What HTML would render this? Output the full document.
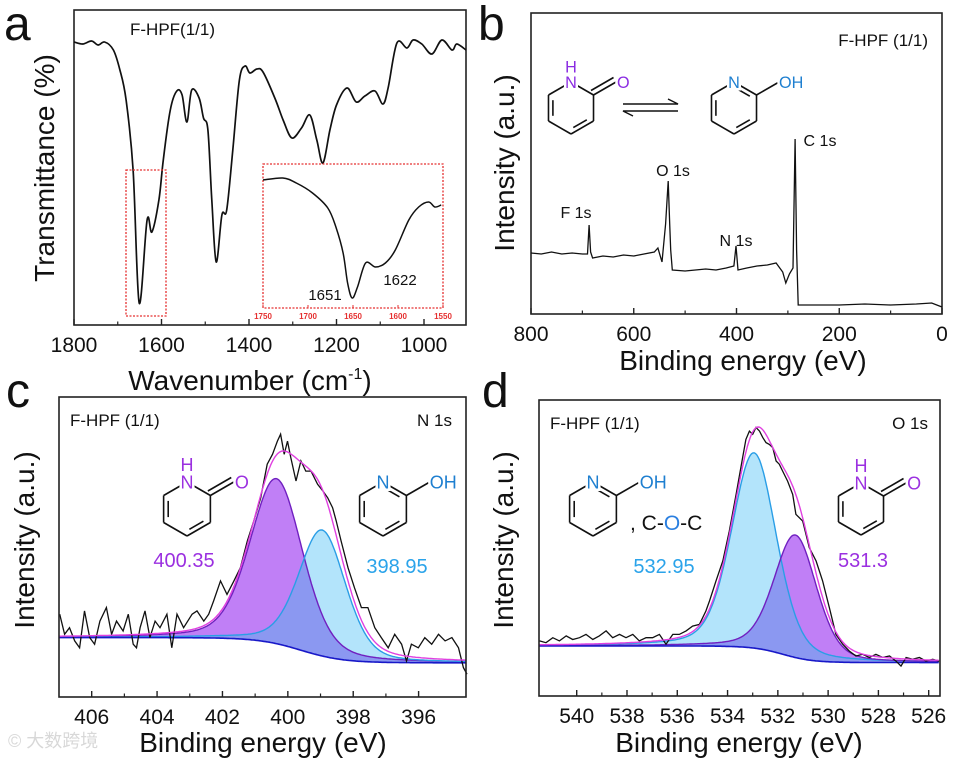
<!DOCTYPE html>
<html><head><meta charset="utf-8">
<style>
html,body{margin:0;padding:0;background:#fff;}
svg{display:block;font-family:"Liberation Sans","Noto Sans CJK SC",sans-serif;}
</style></head>
<body>
<svg id="fig" width="953" height="762" viewBox="0 0 953 762" xmlns="http://www.w3.org/2000/svg"></svg>
<script>
// ---------- Panel a: FTIR ----------
const irWn=[1800,1780,1760,1745,1730,1710,1695,1681,1665,1651,1633,1622,1606,1596,1580,1565,1553,1542,1531,1514,1504,1494,1485,1475,1462,1451,1437,1422,1409,1398,1382,1368,1341,1322,1302,1280,1261,1245,1231,1215,1200,1176,1155,1135,1112,1094,1082,1062,1039,1025,1005,982,959,936,925,904];
const irT=[283,281,284,280,283,275,255,225,155,22,105,93,125,165,215,234,230,203,235,227,207,195,125,63,110,115,175,245,259,252,256,253,227,205,187,197,210,185,162,195,220,237,223,229,234,221,237,282,277,285,281,271,285,275,281,275];
const insetWn=[1750,1728,1713,1695,1678,1669,1661,1656,1651,1645,1636,1625,1614,1603,1588,1577,1566,1559,1552];
const insetT=[128,130,125,115,100,81,55,25,10,21,45,41,45,58,88,101,106,101,103];
const irTicks=[1800,1600,1400,1200,1000];
const insetTicks=[1750,1700,1650,1600,1550];
// ---------- Panel b: survey ----------
const survE=[800,780,760,740,720,700,690,687,684,680,660,640,620,600,580,560,553,545,538,533,530,528,525,500,480,460,440,420,405,401,397,380,360,340,323,310,304,297,290,286,283,280,250,200,150,100,50,20,5,0];
const survI=[61,60,62,60,61,60,60,89,62,56,58,57,59,58,60,62,66,52,90,133,90,64,44,43,44,45,44,46,48,68,44,46,48,49,51,42,31,40,46,175,64,9,9,9,10,9,10,11,8,7];
const survTicks=[800,600,400,200,0];
// ---------- Panel c: N 1s ----------
const nE=[406.98,406.83,406.68,406.52,406.37,406.22,406.06,405.91,405.75,405.55,405.39,405.24,405.04,404.88,404.73,404.63,404.52,404.37,404.22,404.06,403.91,403.70,403.55,403.39,403.19,402.93,402.78,402.57,402.42,402.27,402.06,401.86,401.65,401.45,401.24,401.04,400.83,400.63,400.47,400.32,400.22,400.11,400.01,399.91,399.75,399.60,399.45,399.29,399.09,398.93,398.78,398.63,398.52,398.37,398.16,397.96,397.75,397.55,397.34,397.14,396.93,396.73,396.52,396.37,396.22,396.01,395.81,395.60,395.39,395.19,394.98,394.78,394.63,394.52];
const nI=[.276,.209,.231,.187,.164,.287,.198,.176,.253,.298,.209,.253,.22,.276,.176,.164,.231,.287,.198,.253,.231,.276,.164,.276,.231,.276,.287,.253,.276,.32,.387,.342,.387,.431,.52,.587,.664,.776,.809,.853,.876,.809,.853,.798,.72,.787,.753,.753,.709,.687,.664,.631,.587,.52,.431,.364,.298,.298,.231,.198,.164,.209,.176,.12,.176,.164,.198,.176,.209,.187,.198,.164,.098,.076];
const nCenters=[400.35,398.95];
const nHeights=[0.55,0.42];
const nWidths=[1.9,1.7];
const nBg=[0.198,0.114,399.6,0.65]; // left level, right level, step centre, step width
const nTicks=[406,404,402,400,398,396];
// ---------- Panel d: O 1s ----------
const oE=[541.48,541.22,540.95,540.69,540.42,540.16,539.89,539.63,539.36,539.10,538.83,538.57,538.30,538.04,537.77,537.51,537.24,536.98,536.71,536.45,536.18,535.92,535.65,535.39,535.12,534.86,534.72,534.46,534.19,533.93,533.66,533.40,533.27,533.13,533.00,532.87,532.73,532.60,532.47,532.34,532.20,532.07,531.94,531.81,531.61,531.41,531.28,531.01,530.88,530.75,530.48,530.22,529.95,529.69,529.42,529.16,528.89,528.63,528.36,528.10,527.83,527.56,527.30,527.10,526.90,526.64,526.37,526.11,525.84,525.58];
const oI=[.186,.18,.197,.186,.203,.191,.197,.208,.191,.203,.22,.197,.208,.197,.208,.186,.197,.197,.208,.175,.208,.208,.22,.236,.242,.287,.321,.389,.456,.557,.681,.805,.867,.895,.884,.907,.895,.873,.856,.85,.839,.794,.783,.76,.726,.681,.614,.591,.546,.501,.456,.389,.298,.208,.175,.152,.135,.141,.13,.141,.13,.135,.118,.101,.13,.124,.13,.118,.124,.118];
const oCenters=[532.95,531.3];
const oHeights=[0.66,0.414];
const oWidths=[2.1,2.0];
const oBg=[0.169,0.113,531.8,0.6];
const oTicks=[540,538,536,534,532,530,528,526];

const NS='http://www.w3.org/2000/svg';
const svg=document.getElementById('fig');
function mk(tag,attrs,parent){const e=document.createElementNS(NS,tag);for(const k in attrs)e.setAttribute(k,attrs[k]);(parent||svg).appendChild(e);return e;}
function txt(s,x,y,size,attrs,parent){const a=Object.assign({x:x,y:y,'font-size':size,fill:'#111'},attrs||{});const t=mk('text',a,parent);t.textContent=s;return t;}
function lin(d0,d1,r0,r1){return v=>r0+(v-d0)/(d1-d0)*(r1-r0);}
function pathOf(xs,ys,X,Y){let d='';for(let i=0;i<xs.length;i++)d+=(i?'L':'M')+X(xs[i]).toFixed(1)+','+Y(ys[i]).toFixed(1);return d;}
function smoothOf(xs,ys,X,Y){const P=xs.map((x,i)=>[X(x),Y(ys[i])]);let d='M'+P[0][0].toFixed(1)+','+P[0][1].toFixed(1);
  for(let i=0;i<P.length-1;i++){const p0=P[Math.max(0,i-1)],p1=P[i],p2=P[i+1],p3=P[Math.min(P.length-1,i+2)];
    const c1=[p1[0]+(p2[0]-p0[0])/6,p1[1]+(p2[1]-p0[1])/6],c2=[p2[0]-(p3[0]-p1[0])/6,p2[1]-(p3[1]-p1[1])/6];
    d+='C'+c1[0].toFixed(1)+','+c1[1].toFixed(1)+' '+c2[0].toFixed(1)+','+c2[1].toFixed(1)+' '+p2[0].toFixed(1)+','+p2[1].toFixed(1);}
  return d;}
function pv(E,c,h,w){const u=(E-c)/w;return h*(0.7*Math.exp(-4*Math.LN2*u*u)+0.3/(1+4*u*u));}
function bgv(E,b){return b[1]+(b[0]-b[1])/(1+Math.exp(-(E-b[2])/b[3]));}

function frame(x0,y0,x1,y1,name){const r=mk('rect',{x:x0,y:y0,width:x1-x0,height:y1-y0,fill:'none',stroke:'#222','stroke-width':1.6});}
function xticks(ticks,X,yb,name){
  const g=mk('g',{});
  ticks.forEach((t,i)=>{mk('line',{x1:X(t),x2:X(t),y1:yb,y2:yb-6,stroke:'#222','stroke-width':1.4},g);
    const l=txt(String(t),X(t),yb+27,21,{'text-anchor':'middle'},g);
    
    if(i<ticks.length-1){const m=t+(ticks[i+1]-t)/2;mk('line',{x1:X(m),x2:X(m),y1:yb,y2:yb-3.5,stroke:'#222','stroke-width':1.2},g);}
  });
}
function ring(cx,cy,r,kind,col,scale,name){
  const g=mk('g',{});
  const ang=[-90,-30,30,90,150,210].map(a=>a*Math.PI/180);
  const P=ang.map(a=>[cx+r*Math.cos(a),cy+r*Math.sin(a)]);
  const sw=1.6;
  const dbl=kind==='one'?[[2,3],[4,5]]:[[0,1],[2,3],[4,5]];
  for(let i=0;i<6;i++){const a=P[i],b=P[(i+1)%6];
    mk('line',{x1:a[0],y1:a[1],x2:b[0],y2:b[1],stroke:'#111','stroke-width':sw},g);
    if(dbl.some(d=>d[0]===i)){const k=0.2;const ix=(cx-(a[0]+b[0])/2),iy=(cy-(a[1]+b[1])/2);const L=Math.hypot(ix,iy);const ox=ix/L*r*0.17,oy=iy/L*r*0.17;
      const a2=[a[0]+(b[0]-a[0])*k+ox,a[1]+(b[1]-a[1])*k+oy],b2=[b[0]+(a[0]-b[0])*k+ox,b[1]+(a[1]-b[1])*k+oy];
      mk('line',{x1:a2[0],y1:a2[1],x2:b2[0],y2:b2[1],stroke:'#111','stroke-width':sw},g);}
  }
  const ex=P[1][0]+r*Math.cos(-Math.PI/6),ey=P[1][1]+r*Math.sin(-Math.PI/6);
  mk('line',{x1:P[1][0],y1:P[1][1],x2:ex,y2:ey,stroke:'#111','stroke-width':sw},g);
  if(kind==='one'){mk('line',{x1:P[1][0]-2.5,y1:P[1][1]-4.5,x2:ex-2.5,y2:ey-4.5,stroke:'#111','stroke-width':sw},g);}
  const fs=18*scale;
  const st={'text-anchor':'middle',fill:col,stroke:'#fff','stroke-width':5,'paint-order':'stroke'};
  const n=txt('N',P[0][0],P[0][1]+fs*0.36,fs,st,g);
  if(kind==='one'){const h=txt('H',P[0][0],P[0][1]-fs*0.6,fs,{'text-anchor':'middle',fill:col},g);
    const o=txt('O',ex+fs*0.45,ey+fs*0.36,fs,st,g);}
  else{const o=txt('OH',ex+fs*0.75,ey+fs*0.36,fs,st,g);}
}

// ===== Panel a =====
(function(){
  const X=lin(1800,904,74,466),Y=lin(0,315,325,10);
  frame(74,10,466,325,'panel-a-frame');
  const p=mk('path',{d:smoothOf(irWn,irT,X,Y),fill:'none',stroke:'#111','stroke-width':1.7,'stroke-linejoin':'round'});
  
  xticks(irTicks,X,325,'panel-a-x-axis');
  const z=mk('rect',{x:126,y:170,width:40,height:146,fill:'none',stroke:'#e53030','stroke-width':1.3,'stroke-dasharray':'2,1.5'});
  
  const IX=lin(1750,1550,263,443),IY=lin(0,144,308,164);
  const ib=mk('rect',{x:263,y:164,width:180,height:144,fill:'#fff',stroke:'#e53030','stroke-width':1.3,'stroke-dasharray':'2,1.5'});
  
  const ip=mk('path',{d:smoothOf(insetWn,insetT,IX,IY),fill:'none',stroke:'#111','stroke-width':1.5});
  
  insetTicks.forEach(t=>{mk('line',{x1:IX(t),x2:IX(t),y1:308,y2:305,stroke:'#e53030','stroke-width':1});
    const l=txt(String(t),IX(t),319,8,{'text-anchor':'middle',fill:'#e53030','font-weight':'bold'});
    });
  let t=txt('1651',325,300,15,{'text-anchor':'middle'});
  t=txt('1622',400,285,15,{'text-anchor':'middle'});
  t=txt('F-HPF(1/1)',130,35,17,{});
  t=txt('a',4,40,48,{});
  t=txt('Transmittance  (%)',0,0,28,{'text-anchor':'middle',transform:'translate(54,168) rotate(-90)'});
  t=txt('Wavenumber (cm',250,390,28,{'text-anchor':'middle'});
  const sp=mk('tspan',{'font-size':16,dy:-11},t);sp.textContent='-1';
  const sp2=mk('tspan',{dy:11},t);sp2.textContent=')';
})();

// ===== Panel b =====
(function(){
  const X=lin(800,0,531,942),Y=lin(0,301,314,13);
  frame(531,13,942,314,'panel-b-frame');
  const p=mk('path',{d:pathOf(survE,survI,X,Y),fill:'none',stroke:'#111','stroke-width':1.3});
  
  xticks(survTicks,X,314,'panel-b-x-axis');
  let t;
  t=txt('F 1s',576,218,16,{'text-anchor':'middle'});
  t=txt('O 1s',673,176,16,{'text-anchor':'middle'});
  t=txt('N 1s',736,246,16,{'text-anchor':'middle'});
  t=txt('C 1s',820,146,16,{'text-anchor':'middle'});
  t=txt('F-HPF (1/1)',928,46,17,{'text-anchor':'end'});
  t=txt('b',478,40,48,{});
  t=txt('Intensity (a.u.)',0,0,28,{'text-anchor':'middle',transform:'translate(514,163) rotate(-90)'});
  t=txt('Binding energy (eV)',743,370,28,{'text-anchor':'middle'});
  ring(571,108,26,'one','#8a2be2',0.9,'pyridone-structure');
  ring(734,108,26,'ol','#1e7fd0',0.9,'hydroxypyridine-structure');
  const g=mk('g',{});
  mk('path',{d:'M623,104 L678,104 L668,99',fill:'none',stroke:'#111','stroke-width':1.4},g);
  mk('path',{d:'M678,111 L623,111 L633,116',fill:'none',stroke:'#111','stroke-width':1.4},g);
})();

// ===== fitted XPS panel helper =====
function xpsPanel(box,dom,E,I,cen,hei,wid,bg,ticks,colorOrder,prefix){
  const X=lin(dom[0],dom[1],box[0],box[2]),Y=lin(0,1,box[3],box[1]);
  const grid=[];for(let e=dom[0];e>=dom[1];e-=(dom[0]-dom[1])/300)grid.push(e);
  const B=grid.map(e=>bgv(e,bg));
  const c1=grid.map((e,i)=>B[i]+pv(e,cen[0],hei[0],wid[0]));
  const c2=grid.map((e,i)=>B[i]+pv(e,cen[1],hei[1],wid[1]));
  const mn=grid.map((e,i)=>Math.min(c1[i],c2[i]));
  const env=grid.map((e,i)=>c1[i]+c2[i]-B[i]);
  const area=(top)=>pathOf(grid,top,X,Y)+'L'+[...grid].reverse().map((e,i)=>X(e).toFixed(1)+','+Y(B[B.length-1-i]).toFixed(1)).join('L')+'Z';
  const cols={p:'#c07ff6',c:'#b3e4fb'};
  const line={p:'#7020c0',c:'#2a9ee6'};
  const k1=colorOrder[0],k2=colorOrder[1];
  let e;
  e=mk('path',{d:area(c1),fill:cols[k1],stroke:'none'});
  e=mk('path',{d:area(c2),fill:cols[k2],stroke:'none'});
  e=mk('path',{d:area(mn),fill:'#8b98f1',stroke:'none'});
  e=mk('path',{d:pathOf(grid,c1,X,Y),fill:'none',stroke:line[k1],'stroke-width':1.4});
  e=mk('path',{d:pathOf(grid,c2,X,Y),fill:'none',stroke:line[k2],'stroke-width':1.4});
  e=mk('path',{d:pathOf(grid,B,X,Y),fill:'none',stroke:'#1818c8','stroke-width':1.6});
  e=mk('path',{d:pathOf(E,I,X,Y),fill:'none',stroke:'#111','stroke-width':1.3});
  e=mk('path',{d:pathOf(grid,env,X,Y),fill:'none',stroke:'#e040e0','stroke-width':1.4});
  frame(box[0],box[1],box[2],box[3],prefix+'-frame');
  xticks(ticks,X,box[3],prefix+'-x-axis');
}

// ===== Panel c =====
(function(){
  const wm=txt('\u00a9 大数跨境',8,747,18,{fill:'#d8d8d8'});
  xpsPanel([59,397,466,697],[407,394.55],nE,nI,nCenters,nHeights,nWidths,nBg,nTicks,['p','c'],'n1s');
  let t;
  t=txt('F-HPF (1/1)',70,426,17,{});
  t=txt('N 1s',452,426,17,{'text-anchor':'end'});
  t=txt('400.35',184,567,20,{'text-anchor':'middle',fill:'#9b30e0'});
  t=txt('398.95',397,573,20,{'text-anchor':'middle',fill:'#2aa3ea'});
  ring(187,509,27,'one','#9b30e0',1,'pyridone-structure');
  ring(383,509,27,'ol','#1e7fd0',1,'hydroxypyridine-structure');
  t=txt('c',6,407,48,{});
  t=txt('Intensity (a.u.)',0,0,28,{'text-anchor':'middle',transform:'translate(34,540) rotate(-90)'});
  t=txt('Binding energy (eV)',263,752,28,{'text-anchor':'middle'});
})();

// ===== Panel d =====
(function(){
  xpsPanel([539,400,940,696],[541.5,525.55],oE,oI,oCenters,oHeights,oWidths,oBg,oTicks,['c','p'],'o1s');
  let t;
  t=txt('F-HPF (1/1)',550,429,17,{});
  t=txt('O 1s',928,429,17,{'text-anchor':'end'});
  t=txt('532.95',664,573,20,{'text-anchor':'middle',fill:'#2aa3ea'});
  t=txt('531.3',863,567,20,{'text-anchor':'middle',fill:'#9b30e0'});
  ring(593,509,27,'ol','#1e7fd0',1,'hydroxypyridine-structure');
  ring(861,509,26,'one','#9b30e0',1,'pyridone-structure');
  t=txt(', C-',630,530,21,{});
  const o=mk('tspan',{fill:'#2a7fe0'},t);o.textContent='O';
  const c=mk('tspan',{},t);c.textContent='-C';
  t=txt('d',482,407,48,{});
  t=txt('Intensity (a.u.)',0,0,28,{'text-anchor':'middle',transform:'translate(513,540) rotate(-90)'});
  t=txt('Binding energy (eV)',739,752,28,{'text-anchor':'middle'});
})();
</script>
</body></html>
